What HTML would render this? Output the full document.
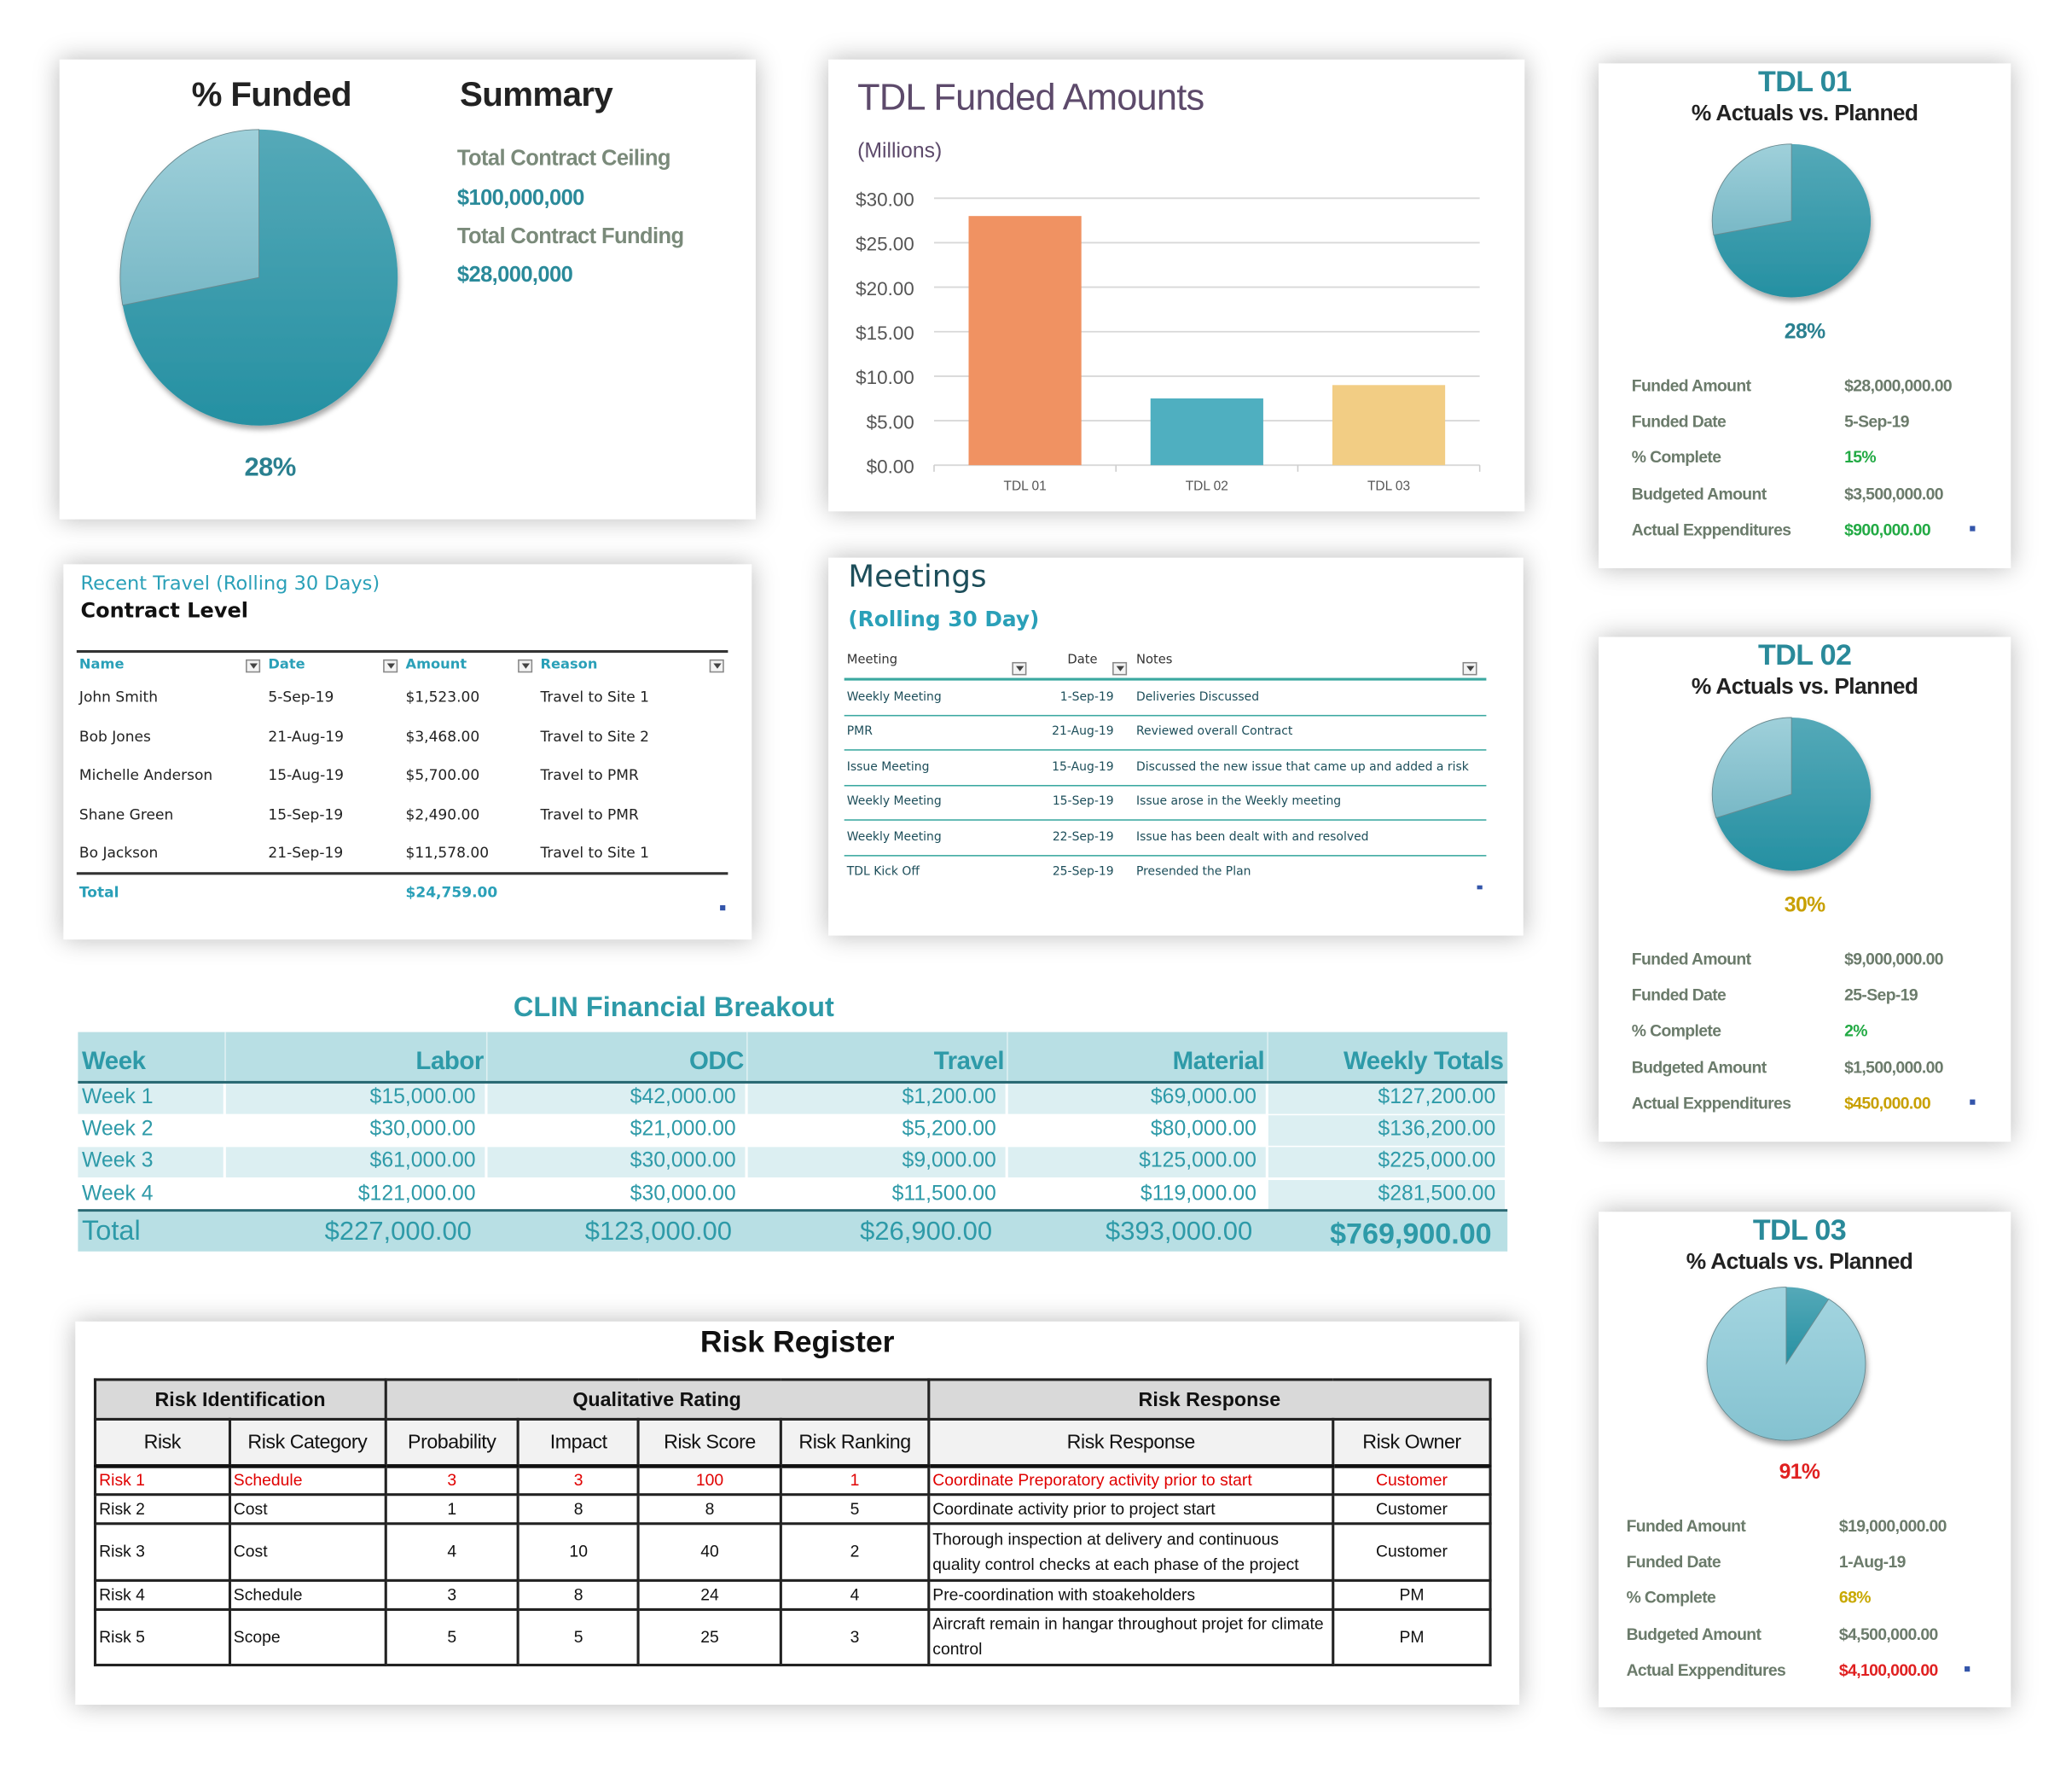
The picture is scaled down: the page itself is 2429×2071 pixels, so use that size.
<!DOCTYPE html>
<html><head><meta charset="utf-8">
<style>
html,body{margin:0;padding:0;background:#fff;}
body{width:2429px;height:2071px;overflow:hidden;position:relative;}
#root{position:absolute;left:0;top:0;width:1568px;height:1337px;transform:scale(1.5488);transform-origin:0 0;font-family:"Liberation Sans",sans-serif;}
.card{position:absolute;background:#fff;box-shadow:0 0 18px rgba(0,0,0,0.28);}
.abs{position:absolute;white-space:nowrap;}
.narrow{font-family:"Liberation Sans Narrow","Liberation Sans",sans-serif;letter-spacing:-0.4px;}
.dd{position:absolute;width:11px;height:10px;border:1px solid #888;background:#f4f4f4;box-sizing:border-box;}
.dd:after{content:"";position:absolute;left:2px;top:2px;border-left:3px solid transparent;border-right:3px solid transparent;border-top:4px solid #444;}
table{border-collapse:collapse;}
</style></head><body>
<div id="root">

<div class="card" style="left:45px;top:45px;width:527px;height:348px;">
  <div class="abs narrow" style="left:100px;top:11px;font-size:26px;font-weight:bold;color:#222;">% Funded</div>
  <div class="abs narrow" style="left:303px;top:11px;font-size:26px;font-weight:bold;color:#222;">Summary</div>
  <svg class="abs" id="pieA" style="left:0;top:0;" width="527" height="348"></svg>
  <div class="abs narrow" style="left:301px;top:66px;font-size:16.5px;font-weight:bold;color:#7a8a7a;">Total Contract Ceiling</div>
  <div class="abs narrow" style="left:301px;top:96px;font-size:16.5px;font-weight:bold;color:#2a8a9a;">$100,000,000</div>
  <div class="abs narrow" style="left:301px;top:125px;font-size:16.5px;font-weight:bold;color:#7a8a7a;">Total Contract Funding</div>
  <div class="abs narrow" style="left:301px;top:154px;font-size:16.5px;font-weight:bold;color:#2a8a9a;">$28,000,000</div>
  <div class="abs narrow" style="left:140px;top:298px;font-size:20px;font-weight:bold;color:#2a8090;">28%</div>
</div>

<div class="card" style="left:627px;top:45px;width:527px;height:342px;">
  <svg id="barChart" width="527" height="342" style="position:absolute;left:0;top:0;"></svg>
</div>

<div id="tdlCards"></div>

<div class="card" style="left:48px;top:427px;width:521px;height:284px;font-family:'DejaVu Sans',sans-serif;">
  <div class="abs" style="left:13px;top:7px;font-size:14.5px;color:#2aa0b8;">Recent Travel (Rolling 30 Days)</div>
  <div class="abs" style="left:13px;top:26px;font-size:15.5px;font-weight:bold;color:#111;">Contract Level</div>
  <div class="abs" style="left:10px;top:65px;width:493px;height:2px;background:#333;"></div>
  <div class="abs" style="left:10px;top:233px;width:493px;height:2px;background:#333;"></div>
  <div id="travelRows"></div>
  <div class="abs" style="left:12px;top:242px;font-size:11px;font-weight:bold;color:#2aa0b8;">Total</div>
  <div class="abs" style="left:259px;top:242px;font-size:11px;font-weight:bold;color:#2aa0b8;">$24,759.00</div>
  <div class="abs" style="left:497px;top:258px;width:4px;height:4px;background:#3355aa;"></div>
</div>

<div class="card" style="left:627px;top:422px;width:526px;height:286px;font-family:'DejaVu Sans',sans-serif;">
  <div class="abs" style="left:15px;top:2px;font-size:23px;color:#1d4e5a;">Meetings</div>
  <div class="abs" style="left:15px;top:37px;font-size:16px;font-weight:bold;color:#2aa0b8;">(Rolling 30 Day)</div>
  <div class="abs" style="left:12px;top:91px;width:486px;height:2px;background:#3aa8a0;"></div>
  <div id="meetRows"></div>
  <div class="abs" style="left:491px;top:248px;width:4px;height:3px;background:#3355aa;"></div>
</div>

<div class="abs" style="left:-40px;top:751px;width:1100px;text-align:center;font-size:21px;font-weight:bold;color:#2e9aa8;">CLIN Financial Breakout</div>
<div id="clin" class="abs" style="left:59px;top:781px;width:1082px;height:166px;"></div>

<div class="card" style="left:57px;top:1000px;width:1093px;height:290px;">
  <div class="abs" style="left:0;top:2px;width:1093px;text-align:center;font-size:23px;font-weight:bold;color:#111;">Risk Register</div>
  <table id="riskTable" style="position:absolute;left:14px;top:43px;width:1058px;font-size:12.5px;color:#111;"></table>
</div>

</div>
<script>
const barCategories=["TDL 01","TDL 02","TDL 03"];
const barValues=[28,7.5,9];
const barColors=["#f09262","#4fafc0","#f2cd84"];
const yTicks=[0,5,10,15,20,25,30];
const yTickLabels=["$0.00","$5.00","$10.00","$15.00","$20.00","$25.00","$30.00"];
const fundedPct=0.28;
const tdlNames=["TDL 01","TDL 02","TDL 03"];
const tdlPct=[0.28,0.30,0.91];
const tdlFunded=["$28,000,000.00","$9,000,000.00","$19,000,000.00"];
const tdlDates=["5-Sep-19","25-Sep-19","1-Aug-19"];
const tdlComplete=["15%","2%","68%"];
const tdlBudget=["$3,500,000.00","$1,500,000.00","$4,500,000.00"];
const tdlActual=["$900,000.00","$450,000.00","$4,100,000.00"];
const travelNames=["John Smith","Bob Jones","Michelle Anderson","Shane Green","Bo Jackson"];
const travelDates=["5-Sep-19","21-Aug-19","15-Aug-19","15-Sep-19","21-Sep-19"];
const travelAmounts=["$1,523.00","$3,468.00","$5,700.00","$2,490.00","$11,578.00"];
const travelReasons=["Travel to Site 1","Travel to Site 2","Travel to PMR","Travel to PMR","Travel to Site 1"];
const meetNames=["Weekly Meeting","PMR","Issue Meeting","Weekly Meeting","Weekly Meeting","TDL Kick Off"];
const meetDates=["1-Sep-19","21-Aug-19","15-Aug-19","15-Sep-19","22-Sep-19","25-Sep-19"];
const meetNotes=["Deliveries Discussed","Reviewed overall Contract","Discussed the new issue that came up and added a risk","Issue arose in the Weekly meeting","Issue has been dealt with and resolved","Presended the Plan"];
const clinWeeks=["Week 1","Week 2","Week 3","Week 4"];
const clinLabor=["$15,000.00","$30,000.00","$61,000.00","$121,000.00"];
const clinODC=["$42,000.00","$21,000.00","$30,000.00","$30,000.00"];
const clinTravel=["$1,200.00","$5,200.00","$9,000.00","$11,500.00"];
const clinMaterial=["$69,000.00","$80,000.00","$125,000.00","$119,000.00"];
const clinTotals=["$127,200.00","$136,200.00","$225,000.00","$281,500.00"];
const clinGrand=["$227,000.00","$123,000.00","$26,900.00","$393,000.00","$769,900.00"];
const riskIds=["Risk 1","Risk 2","Risk 3","Risk 4","Risk 5"];
const riskCats=["Schedule","Cost","Cost","Schedule","Scope"];
const riskProb=[3,1,4,3,5];
const riskImpact=[3,8,10,8,5];
const riskScore=[100,8,40,24,25];
const riskRank=[1,5,2,4,3];
const riskResp=["Coordinate Preporatory activity prior to start","Coordinate activity prior to project start","Thorough inspection at delivery and continuous quality control checks at each phase of the project","Pre-coordination with stoakeholders","Aircraft remain in hangar throughout projet for climate control"];
const riskOwner=["Customer","Customer","Customer","PM","PM"];

const NS="http://www.w3.org/2000/svg";
function sv(tag,attrs,parent){const e=document.createElementNS(NS,tag);for(const k in attrs)e.setAttribute(k,attrs[k]);parent.appendChild(e);return e;}

let gid=0;
function drawPie(svg,cx,cy,rx,ry,p,lightCol){
  gid++;
  const defs=sv('defs',{},svg);
  const g1=sv('linearGradient',{id:'dk'+gid,x1:0,y1:0,x2:0,y2:1},defs);
  sv('stop',{offset:0,'stop-color':'#55a9b8'},g1);sv('stop',{offset:1,'stop-color':'#2590a2'},g1);
  const g2=sv('linearGradient',{id:'lt'+gid,x1:0,y1:0,x2:0,y2:1},defs);
  sv('stop',{offset:0,'stop-color':lightCol[0]},g2);sv('stop',{offset:1,'stop-color':lightCol[1]},g2);
  const f=sv('filter',{id:'sh'+gid,x:'-20%',y:'-20%',width:'140%',height:'140%'},defs);
  sv('feDropShadow',{dx:1,dy:3,stdDeviation:2,'flood-color':'#000','flood-opacity':0.35},f);
  const pt=a=>[cx+rx*Math.sin(a),cy-ry*Math.cos(a)];
  const split=(1-p)*2*Math.PI;
  const [x1,y1]=pt(split);
  const g=sv('g',{filter:'url(#sh'+gid+')'},svg);
  const darkLarge=(1-p)>0.5?1:0, lightLarge=p>0.5?1:0;
  const d1=sv('path',{d:`M${cx},${cy} L${cx},${cy-ry} A${rx},${ry} 0 ${darkLarge} 1 ${x1},${y1} Z`,fill:'url(#dk'+gid+')'},g);
  
  
  const d2=sv('path',{d:`M${cx},${cy} L${x1},${y1} A${rx},${ry} 0 ${lightLarge} 1 ${cx},${cy-ry} Z`,fill:'url(#lt'+gid+')',stroke:'#6a8a90','stroke-width':0.6},g);
  
  
}
drawPie(document.getElementById('pieA'),151,165,105,112,fundedPct,['#9fd0da','#78b8c6']);

(function(){
  const svg=document.getElementById('barChart');
  const L=80,R=493,T=105,B=307,max=30;
  const y=v=>B-(v/max)*(B-T);
  const t=sv('text',{x:22,y:38,'font-size':28,fill:'#5d4a6b','font-family':'Liberation Sans Narrow, Liberation Sans, sans-serif','letter-spacing':'-0.5'},svg);t.textContent='TDL Funded Amounts';
  
  const s=sv('text',{x:22,y:74,'font-size':16,fill:'#5d4a6b','font-family':'Liberation Sans Narrow, Liberation Sans, sans-serif'},svg);s.textContent='(Millions)';
  
  yTicks.forEach((v,i)=>{
    sv('line',{x1:L,x2:R,y1:y(v),y2:y(v),stroke:'#d8d8d8','stroke-width':1.2},svg);
    const tx=sv('text',{x:65,y:y(v)+6,'text-anchor':'end','font-size':14.5,fill:'#555','font-family':'Liberation Sans Narrow, Liberation Sans, sans-serif'},svg);
    tx.textContent=yTickLabels[i];
    
  });
  const bw=(R-L)/barCategories.length;
  for(let i=0;i<=barCategories.length;i++)sv('line',{x1:L+bw*i,x2:L+bw*i,y1:B,y2:B+5,stroke:'#ccc'},svg);
  barCategories.forEach((c,i)=>{
    const x=L+bw*i+bw*0.19,w=bw*0.62;
    const r=sv('rect',{x:x,y:y(barValues[i]),width:w,height:B-y(barValues[i]),fill:barColors[i]},svg);
    
    
    const tx=sv('text',{x:L+bw*i+bw/2,y:B+19,'text-anchor':'middle','font-size':10,fill:'#555'},svg);
    tx.textContent=c;
    
  });
})();

(function(){
  const tops=[48,482,917], hs=[382,382,375];
  const pctCol=['#2a8090','#c8a000','#e02020'];
  const compCol=['#22aa44','#22aa44','#c8a800'];
  const actCol=['#22aa44','#c8a000','#e02020'];
  const lightCols=[['#9fd0da','#78b8c6'],['#9fd0da','#78b8c6'],['#a4d5e0','#84c2d0']];
  const host=document.getElementById('tdlCards');
  tdlNames.forEach((n,i)=>{
    const c=document.createElement('div');c.className='card';
    
    
    c.style.cssText=`left:1210px;top:${tops[i]}px;width:312px;height:${hs[i]}px;`;
    const dx=i==2?-4:0;
    c.innerHTML=`<div class="abs narrow" style="left:0;width:${312+dx*2}px;text-align:center;top:1px;font-size:22px;font-weight:bold;color:#2a8a9a;">${n}</div>
<div class="abs narrow" style="left:0;width:${312+dx*2}px;text-align:center;top:28px;font-size:17px;font-weight:bold;color:#222;">% Actuals vs. Planned</div>
<div class="abs narrow" style="left:0;width:${312+dx*2}px;text-align:center;top:${i==2?189:195}px;font-size:16px;font-weight:bold;color:${pctCol[i]};">${Math.round(tdlPct[i]*100)}%</div>`;
    const svg=document.createElementNS(NS,'svg');svg.setAttribute('width',312);svg.setAttribute('height',200);svg.style.cssText='position:absolute;left:0;top:0;';
    
    c.appendChild(svg);
    drawPie(svg,146+dx,i==2?115:119,60,58,tdlPct[i],lightCols[i]);
    const labels=['Funded Amount','Funded Date','% Complete','Budgeted Amount','Actual Exppenditures'];
    const vals=[tdlFunded[i],tdlDates[i],tdlComplete[i],tdlBudget[i],tdlActual[i]];
    const cols=['#6b7b6b','#6b7b6b',compCol[i],'#6b7b6b',actCol[i]];
    const y0=i==2?231:237;
    labels.forEach((l,j)=>{
      const a=document.createElement('div');a.className='abs narrow';
      a.style.cssText=`left:${25+dx}px;top:${y0+j*27.2}px;font-size:12.5px;font-weight:bold;color:#6b7b6b;`;a.textContent=l;
      c.appendChild(a);
      const b=document.createElement('div');b.className='abs narrow';
      b.style.cssText=`left:${186+dx}px;top:${y0+j*27.2}px;font-size:12.5px;font-weight:bold;color:${cols[j]};`;b.textContent=vals[j];
      c.appendChild(b);
    });
    const m=document.createElement('div');m.className='abs';m.style.cssText=`left:${281+dx}px;top:${y0+113}px;width:4px;height:4px;background:#3355aa;`;c.appendChild(m);
    host.appendChild(c);
  });
  document.getElementById('root').appendChild(host);
})();

(function(){
  const host=document.getElementById('travelRows');
  const hx=[12,155,259,361], dd=[138,242,344,489], hdr=['Name','Date','Amount','Reason'];
  let h='';
  hdr.forEach((t,i)=>{h+=`<div class="abs" style="left:${hx[i]}px;top:70px;font-size:10.5px;font-weight:bold;color:#2aa0b8;">${t}</div><div class="dd" style="left:${dd[i]}px;top:72px;"></div>`;});
  travelNames.forEach((n,j)=>{
    const y=94+j*29.6;
    [n,travelDates[j],travelAmounts[j],travelReasons[j]].forEach((v,i)=>{
      h+=`<div class="abs" style="left:${hx[i]}px;top:${y}px;font-size:11px;color:#222;">${v}</div>`;
    });
  });
  host.innerHTML=h;
})();

(function(){
  const host=document.getElementById('meetRows');
  let h=`<div class="abs" style="left:14px;top:72px;font-size:9.5px;color:#333;">Meeting</div>
<div class="abs" style="left:181px;top:72px;font-size:9.5px;color:#333;">Date</div>
<div class="abs" style="left:233px;top:72px;font-size:9.5px;color:#333;">Notes</div>
<div class="dd" style="left:139px;top:79px;"></div>
<div class="dd" style="left:215px;top:79px;"></div>
<div class="dd" style="left:480px;top:79px;"></div>`;
  meetNames.forEach((n,j)=>{
    const y=101+j*26.4;
    h+=`<div class="abs" style="left:14px;top:${y}px;font-size:9px;color:#1d4e5a;">${n}</div>
<div class="abs" style="left:140px;width:76px;text-align:right;top:${y}px;font-size:9px;color:#1d4e5a;">${meetDates[j]}</div>
<div class="abs" style="left:233px;top:${y}px;font-size:9px;color:#1d4e5a;">${meetNotes[j]}</div>`;
    if(j<meetNames.length-1)h+=`<div class="abs" style="left:12px;top:${y+18}px;width:486px;height:1px;background:#3aa8a0;"></div>`;
  });
  host.innerHTML=h;
})();

(function(){
  const host=document.getElementById('clin');
  const cx=[0,112,310,507,704,901,1082];
  const hdr=['Week','Labor','ODC','Travel','Material','Weekly Totals'];
  const col='#2e9aa8';
  let h=`<div class="abs" style="left:0;top:0;width:1082px;height:38px;background:#b8dfe4;"></div>`;
  hdr.forEach((t,i)=>{
    h+=`<div class="abs" style="left:${cx[i]+3}px;top:12px;width:${cx[i+1]-cx[i]-6}px;text-align:${i?'right':'left'};font-size:19px;font-weight:bold;color:${col};letter-spacing:-0.3px;">${t}</div>`;
    if(i>0)h+=`<div class="abs" style="left:${cx[i]-1}px;top:0;width:1px;height:37px;background:#dff0f2;"></div>`;
  });
  h+=`<div class="abs" style="left:0;top:37px;width:1082px;height:2px;background:#2a6a74;"></div>`;
  clinWeeks.forEach((w,j)=>{
    const y=39+j*24.2;
    const vals=[w,clinLabor[j],clinODC[j],clinTravel[j],clinMaterial[j],clinTotals[j]];
    vals.forEach((v,i)=>{
      const bg=(j%2==0||i==5)?'#dceff2':'#fff';
      h+=`<div class="abs" style="left:${cx[i]}px;top:${y}px;width:${cx[i+1]-cx[i]-2}px;height:22.5px;background:${bg};"></div>
<div class="abs" style="left:${cx[i]+3}px;top:${y+2}px;width:${cx[i+1]-cx[i]-12}px;text-align:${i?'right':'left'};font-size:16px;color:${col};">${v}</div>`;
    });
  });
  h+=`<div class="abs" style="left:0;top:134px;width:1082px;height:2px;background:#2a6a74;"></div>
<div class="abs" style="left:0;top:136px;width:1082px;height:30px;background:#b8dfe4;"></div>
<div class="abs" style="left:3px;top:139px;font-size:21px;color:${col};">Total</div>`;
  clinGrand.forEach((v,i)=>{
    h+=`<div class="abs" style="left:${cx[i+1]}px;top:140px;width:${cx[i+2]-cx[i+1]-12}px;text-align:right;font-size:${i==4?22:20}px;font-weight:${i==4?'bold':'normal'};color:${col};">${v}</div>`;
  });
  host.innerHTML=h;
})();

(function(){
  const t=document.getElementById('riskTable');
  const w=[102,118,101,91,108,112,307,119];
  const B='border:2px solid #222;';
  let h='<colgroup>'+w.map(x=>`<col style="width:${x}px">`).join('')+'</colgroup>';
  h+=`<tr style="height:30px;background:#d9d9d9;font-weight:bold;font-size:15px;">
<td colspan="2" style="${B}text-align:center;">Risk Identification</td>
<td colspan="4" style="${B}text-align:center;">Qualitative Rating</td>
<td colspan="2" style="${B}text-align:center;">Risk Response</td></tr>`;
  const sub=['Risk','Risk Category','Probability','Impact','Risk Score','Risk Ranking','Risk Response','Risk Owner'];
  h+='<tr style="height:35px;background:#f2f2f2;font-size:15px;">'+sub.map(s=>`<td style="${B}border-bottom:3px solid #111;text-align:center;letter-spacing:-0.3px;">${s}</td>`).join('')+'</tr>';
  const hs=[22,22,43,22,42];
  riskIds.forEach((r,j)=>{
    const red=j==0?'color:#e00000;':'';
    const c=[r,riskCats[j],riskProb[j],riskImpact[j],riskScore[j],riskRank[j],riskResp[j],riskOwner[j]];
    h+=`<tr style="height:${hs[j]}px;${red}">`+c.map((v,i)=>`<td style="${B}padding:0 2px;line-height:19px;text-align:${(i<2||i==6)?'left':'center'};">${v}</td>`).join('')+'</tr>';
  });
  t.innerHTML=h;
})();
</script>
</body></html>
